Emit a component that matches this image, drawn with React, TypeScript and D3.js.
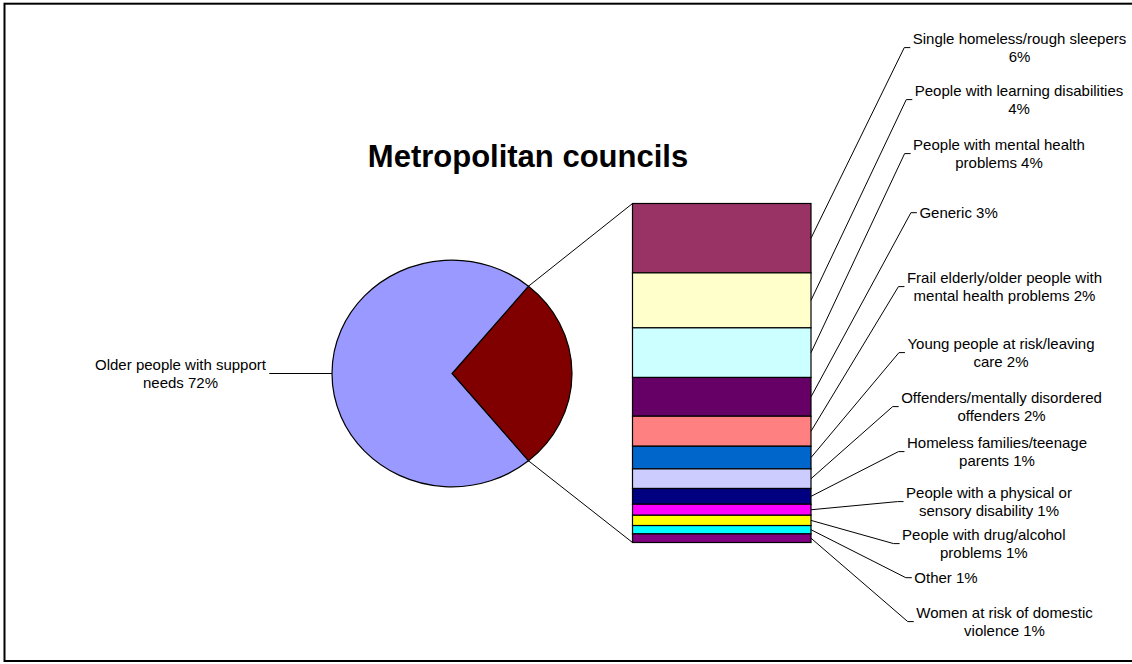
import React, { useEffect, useRef } from "react";
import * as d3 from "d3";

// ---- data ----
const titleText = "Metropolitan councils";
const mainCategory = "Older people with support needs";
const mainValue = 72;
const mainLabelLines = ["Older people with support", "needs 72%"];

const barCategories = [
  "Single homeless/rough sleepers",
  "People with learning disabilities",
  "People with mental health problems",
  "Generic",
  "Frail elderly/older people with mental health problems",
  "Young people at risk/leaving care",
  "Offenders/mentally disordered offenders",
  "Homeless families/teenage parents",
  "People with a physical or sensory disability",
  "People with drug/alcohol problems",
  "Other",
  "Women at risk of domestic violence",
];
const barValues = [5.73, 4.54, 4.1, 3.2, 2.48, 1.87, 1.62, 1.3, 0.91, 0.85, 0.69, 0.71];
const barLabelLines = [
  ["Single homeless/rough sleepers", "6%"],
  ["People with learning disabilities", "4%"],
  ["People with mental health", "problems 4%"],
  ["Generic 3%"],
  ["Frail elderly/older people with", "mental health problems 2%"],
  ["Young people at risk/leaving", "care 2%"],
  ["Offenders/mentally disordered", "offenders 2%"],
  ["Homeless families/teenage", "parents 1%"],
  ["People with a physical or", "sensory disability 1%"],
  ["People with drug/alcohol", "problems 1%"],
  ["Other 1%"],
  ["Women at risk of domestic", "violence 1%"],
];
const barColors = [
  "#993366", "#FFFFCC", "#CCFFFF", "#660066", "#FF8080", "#0066CC",
  "#CCCCFF", "#000080", "#FF00FF", "#FFFF00", "#00FFFF", "#800080",
];
const mainColor = "#9999FF";
const otherColor = "#800000";

// ---- layout ----
const W = 1132;
const H = 664;
const FONT = "'Liberation Sans', Arial, Helvetica, sans-serif";
const pieC = { x: 452, y: 373.5, rx: 120, ry: 113.3 };
const barBox = { x0: 632.5, x1: 811, y0: 203.5, y1: 542.5 };
const barLabelPos: [number, number][] = [
  [1019.5, 47.6], [1019, 99.6], [999, 153.6], [958.6, 212.7],
  [1004.5, 286.6], [1001, 352.6], [1001.5, 406.6], [997, 451.6],
  [989, 501.6], [983.8, 543.6], [946, 577.7], [1004.5, 621.6],
];
const mainLabelPos: [number, number] = [180.5, 373.6];
const LINE_H = 17.8;

export default function App() {
  const ref = useRef<SVGSVGElement>(null);

  useEffect(() => {
    const svg = d3.select(ref.current);
    svg.selectAll("*").remove();

    // border
    svg.append("rect")
      .attr("x", 4.5).attr("y", 3.7)
      .attr("width", 1300).attr("height", 657.3)
      .attr("fill", "white").attr("stroke", "black").attr("stroke-width", 2);

    // title
    svg.append("text")
      .attr("x", 528).attr("y", 166.5)
      .attr("text-anchor", "middle")
      .attr("font-family", FONT).attr("font-weight", "bold").attr("font-size", 31)
      .text(titleText);

    // pie
    const otherSum = d3.sum(barValues);
    const total = otherSum + mainValue;
    const theta = (2 * Math.PI * otherSum) / total;
    const start = Math.PI / 2 - theta / 2;
    const pieData = [
      { name: "Other", value: otherSum, color: otherColor },
      { name: mainCategory, value: mainValue, color: mainColor },
    ];
    const arcs = d3.pie<any>().sort(null).value((d) => d.value)
      .startAngle(start).endAngle(start + 2 * Math.PI)(pieData);
    const arcGen = d3.arc<any>().innerRadius(0).outerRadius(pieC.rx);
    const pg = svg.append("g")
      .attr("transform", `translate(${pieC.x},${pieC.y}) scale(1,${pieC.ry / pieC.rx})`);
    pg.selectAll("path").data(arcs).join("path")
      .attr("d", arcGen as any)
      .attr("fill", (d: any) => d.data.color)
      .attr("stroke", "black").attr("stroke-width", 1.2)
      .attr("vector-effect", "non-scaling-stroke");

    const pt = (a: number) => [pieC.x + pieC.rx * Math.sin(a), pieC.y - pieC.ry * Math.cos(a)];
    const upper = pt(start);
    const lower = pt(start + theta);

    // connectors pie -> bar
    svg.append("line").attr("x1", upper[0]).attr("y1", upper[1])
      .attr("x2", barBox.x0).attr("y2", barBox.y0).attr("stroke", "black").attr("stroke-width", 1);
    svg.append("line").attr("x1", lower[0]).attr("y1", lower[1])
      .attr("x2", barBox.x0).attr("y2", barBox.y1).attr("stroke", "black").attr("stroke-width", 1);

    // bar
    const y = d3.scaleLinear().domain([0, otherSum]).range([barBox.y0, barBox.y1]);
    const cum = d3.cumsum(barValues);
    const segs = barValues.map((v, i) => ({ v, c0: cum[i] - v, c1: cum[i], i }));
    svg.append("g").selectAll("rect").data(segs).join("rect")
      .attr("x", barBox.x0).attr("width", barBox.x1 - barBox.x0)
      .attr("y", (d) => y(d.c0)).attr("height", (d) => y(d.c1) - y(d.c0))
      .attr("fill", (d) => barColors[d.i])
      .attr("stroke", "black").attr("stroke-width", 1.2);

    // labels
    const drawLabel = (lines: string[], cx: number, cy: number) => {
      const t = svg.append("text")
        .attr("font-family", FONT).attr("font-size", 15).attr("text-anchor", "middle")
        .attr("fill", "black");
      const n = lines.length;
      lines.forEach((l, k) => {
        t.append("tspan").attr("x", cx)
          .attr("y", cy + 5.3 + (k - (n - 1) / 2) * LINE_H).text(l);
      });
      const bb = (t.node() as SVGTextElement).getBBox();
      return { left: bb.x, right: bb.x + bb.width };
    };

    segs.forEach((s) => {
      const [cx, cy] = barLabelPos[s.i];
      const box = drawLabel(barLabelLines[s.i], cx, cy);
      const tickEnd = box.left - 2.5;
      const tickStart = tickEnd - 6;
      const my = y((s.c0 + s.c1) / 2);
      svg.append("path")
        .attr("d", `M${barBox.x1},${my}L${tickStart},${cy}L${tickEnd},${cy}`)
        .attr("fill", "none").attr("stroke", "black").attr("stroke-width", 1);
    });

    const mb = drawLabel(mainLabelLines, mainLabelPos[0], mainLabelPos[1]);
    svg.append("line")
      .attr("x1", pieC.x - pieC.rx).attr("y1", pieC.y)
      .attr("x2", mb.right + 2.5).attr("y2", pieC.y)
      .attr("stroke", "black").attr("stroke-width", 1);
  }, []);

  return (
    <svg
      ref={ref}
      width={W}
      height={H}
      style={{ position: "absolute", left: 0, top: 0, background: "white" }}
    />
  );
}
